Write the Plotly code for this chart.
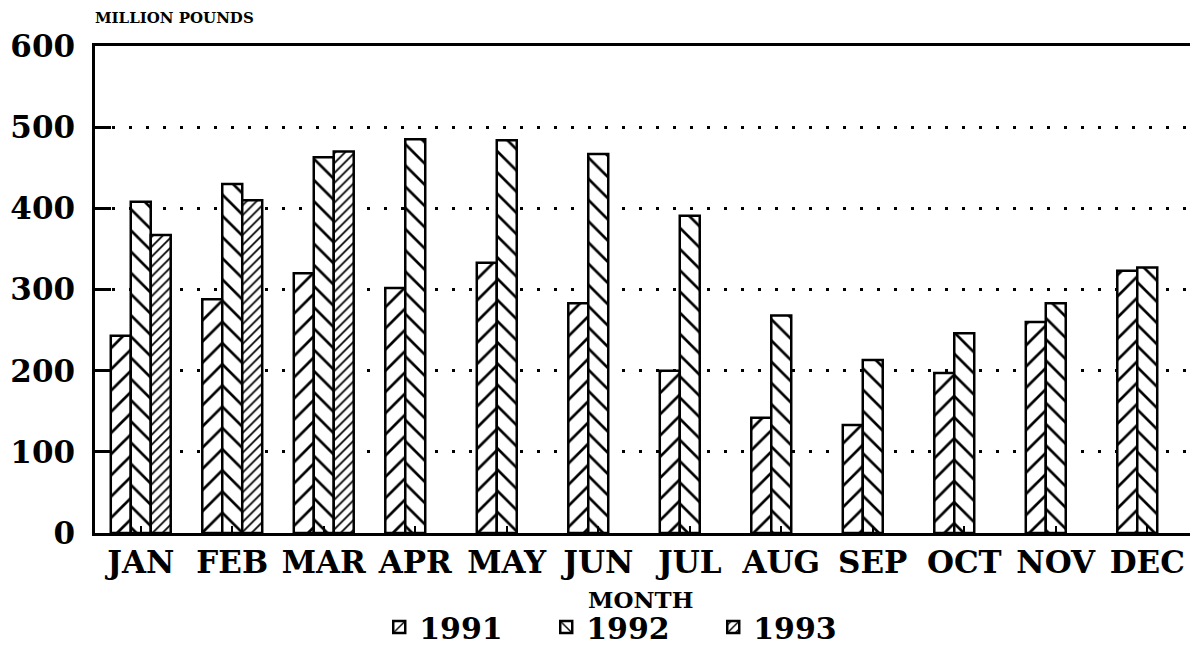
import plotly.graph_objects as go

months = ["JAN", "FEB", "MAR", "APR", "MAY", "JUN", "JUL", "AUG", "SEP", "OCT", "NOV", "DEC"]
y1991 = [243, 288, 320, 302, 333, 283, 200, 142, 133, 197, 260, 323]
y1992 = [408, 430, 463, 485, 484, 467, 391, 268, 213, 246, 283, 327]
y1993 = [367, 410, 470, None, None, None, None, None, None, None, None, None]
y_ticks = [0, 100, 200, 300, 400, 500, 600]

FONT = "DejaVu Serif"

fig = go.Figure()
series = [
    ("1991", y1991, "/", 15, 0.18),
    ("1992", y1992, "\\", 15, 0.18),
    ("1993", y1993, "/", 7, 0.25),
]
for name, vals, shape, size, sol in series:
    fig.add_trace(go.Bar(
        x=months, y=vals, name=name,
        marker=dict(
            color="white",
            line=dict(color="black", width=2.5),
            pattern=dict(shape=shape, size=size, solidity=sol,
                         fgcolor="black", bgcolor="white", fillmode="replace"),
        ),
    ))

fig.update_layout(
    width=1190, height=637,
    paper_bgcolor="white", plot_bgcolor="white",
    margin=dict(l=87, r=5, t=38, b=112, autoexpand=False),
    barmode="group", bargap=0.345, bargroupgap=0,
    font=dict(family=FONT, color="black"),
    showlegend=True,
    legend=dict(orientation="h", x=0.487, xanchor="center",
                yref="container", y=0.069, yanchor="top",
                font=dict(family=FONT, size=30, weight="bold"),
                itemwidth=30, entrywidth=122, entrywidthmode="pixels",
                tracegroupgap=0, bgcolor="rgba(0,0,0,0)"),
)
fig.add_annotation(text="<b>MILLION POUNDS</b>", xref="paper", yref="paper",
                   x=0, y=1, xshift=-2, yshift=17, xanchor="left", yanchor="bottom",
                   showarrow=False, font=dict(family=FONT, size=15))
fig.add_annotation(text="<b>MONTH</b>", xref="paper", yref="paper",
                   x=0.497, y=0, yshift=-51, xanchor="center", yanchor="top",
                   showarrow=False, font=dict(family=FONT, size=23))

fig.update_xaxes(
    automargin=False,
    showline=True, linecolor="black", linewidth=2.5, mirror=True,
    ticks="inside", ticklen=7, tickwidth=2, tickcolor="black",
    tickfont=dict(family=FONT, size=31, weight="bold"),
    showgrid=False,
)
fig.update_yaxes(
    automargin=False,
    range=[0, 600], tickvals=y_ticks,
    showline=True, linecolor="black", linewidth=2.5, mirror=True,
    ticks="inside", ticklen=16, tickwidth=2.5, tickcolor="black",
    tickfont=dict(family=FONT, size=31, weight="bold"),
    ticklabelstandoff=11,
    showgrid=True, gridcolor="black", gridwidth=2.5, griddash="3px,14px",
    zeroline=False,
)

fig.write_html("out.html")
